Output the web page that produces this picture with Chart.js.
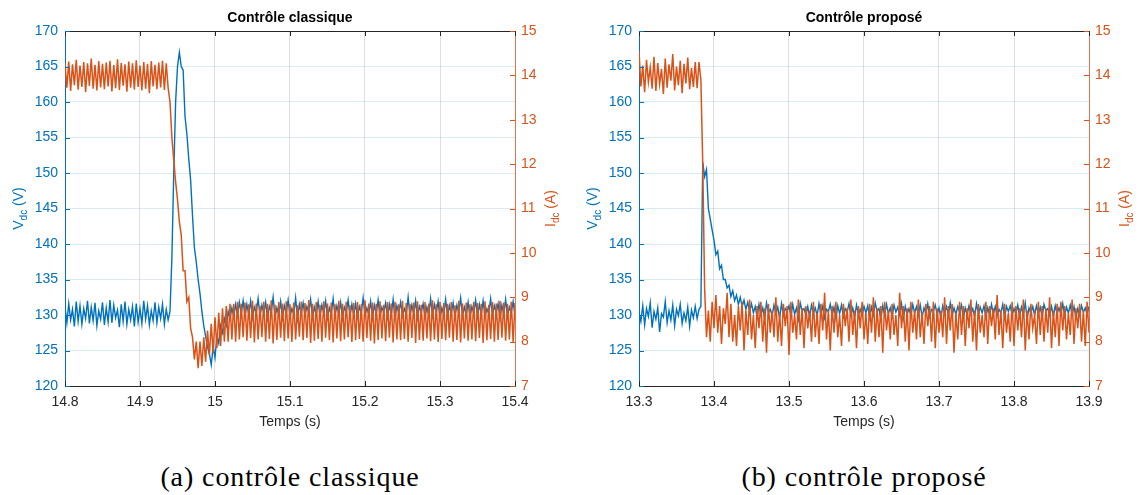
<!DOCTYPE html>
<html>
<head>
<meta charset="utf-8">
<script src="https://cdn.jsdelivr.net/npm/chart.js@4.4.1/dist/chart.umd.min.js"></script>
<style>
  html, body { margin: 0; padding: 0; background: #fff; }
  body { width: 1140px; height: 495px; position: relative; overflow: hidden; }
  canvas { position: absolute; top: 0; }
  .caption { position: absolute; top: 461px; line-height: 32px; font-family: "Liberation Serif", "DejaVu Serif", serif; font-size: 28px; letter-spacing: 0.9px; color: #000; transform: translateX(-50%); white-space: nowrap; }
</style>
</head>
<body>
<canvas id="chartA" width="570" height="440" style="left:0"></canvas>
<canvas id="chartB" width="566" height="440" style="left:574px"></canvas>
<div class="caption" style="left:290px">(a) contrôle classique</div>
<div class="caption" style="left:864px">(b) contrôle proposé</div>
<script>
const BLUE = '#0072BD';
const ORANGE = '#D95319';

// scope sample period (s), traces start at the left edge of each window
const dt = 0.0025;
const startA = 14.8;
const startB = 13.3;

const xTicksA = [14.8, 14.9, 15, 15.1, 15.2, 15.3, 15.4];
const xTicksB = [13.3, 13.4, 13.5, 13.6, 13.7, 13.8, 13.9];
const vTicks = [120, 125, 130, 135, 140, 145, 150, 155, 160, 165, 170];
const iTicks = [7, 8, 9, 10, 11, 12, 13, 14, 15];

// (a) contrôle classique - Vdc (V)
const vdcA = [
  131.2,128.9,131.6,129.3,130.8,128.4,131.9,129.1,131.3,128.7,
  130.9,129.5,132.0,128.8,131.1,129.2,131.7,128.5,130.6,129.4,
  131.8,128.6,131.0,129.0,132.1,128.9,131.4,129.6,130.7,128.3,
  131.5,129.1,131.9,128.7,130.8,129.3,131.2,128.4,131.6,129.0,
  130.9,128.8,132.0,129.4,131.3,128.6,130.6,129.2,131.8,128.9,
  131.1,129.5,131.5,128.7,130.8,129.3,
  130.5,138,150,160,165,167,165,164.5,158,155.5,
  152,149,144,139.5,137.5,135,133,130.5,128.5,127,
  125.5,124.5,123,125.5,124,127,126,128.5,127.5,129.5,
  128.5,130.5,129.5,131,129.8,131.5,130,131.8,130.2,132,
  129.8,131.5,130.1,132.0,129.6,131.1,130.3,132.3,129.9,131.4,
  130.2,131.8,129.5,131.2,130.4,132.5,129.7,131.0,130.0,131.9,
  129.6,131.3,130.3,132.1,129.8,130.9,130.1,132.4,129.5,131.5,
  130.2,131.7,129.9,131.2,130.4,132.2,129.7,131.1,130.0,131.9,
  129.8,131.4,130.3,132.0,129.6,131.0,130.1,132.3,129.9,131.3,
  130.2,131.8,129.5,131.1,130.4,132.1,129.8,131.5,130.0,131.6,
  129.7,131.2,130.3,132.4,129.9,131.0,130.1,131.9,129.6,131.4,
  130.2,132.1,129.8,131.1,130.4,131.7,129.7,131.5,130.0,132.2,
  129.5,131.3,130.3,131.8,129.9,130.9,130.1,132.5,129.8,131.4,
  130.2,132.0,129.6,131.2,130.4,131.6,129.7,131.1,130.0,132.3,
  129.9,131.5,130.3,131.9,129.5,131.0,130.1,132.2,129.8,131.3,
  130.2,131.7,129.7,131.4,130.4,132.4,129.9,131.1,130.0,131.8,
  129.6,131.2,130.3,132.1,129.8,131.5,130.1,132.0,129.7,130.9,
  130.2,132.3,129.9,131.3,130.4,131.6,129.5,131.4,130.1,132.2,
  129.8,131.1,130.3,131.9,129.9
];

// (a) contrôle classique - Idc (A)
const idcA = [
  14.28,13.72,14.31,13.65,14.25,13.78,14.35,13.68,14.22,13.74,
  14.30,13.62,14.27,13.76,14.38,13.70,14.24,13.66,14.32,13.73,
  14.26,13.69,14.29,13.75,14.33,13.64,14.23,13.71,14.36,13.67,
  14.28,13.77,14.25,13.63,14.31,13.72,14.27,13.68,14.34,13.74,
  14.22,13.66,14.30,13.70,14.26,13.60,14.32,13.75,14.24,13.69,
  14.29,13.73,14.33,13.67,14.27,13.72,
  13.4,12.6,12.1,11.6,11.2,10.7,10.4,9.6,9.6,8.9,
  9.0,8.3,8.1,7.6,8.0,7.4,8.0,7.45,8.1,7.55,
  8.25,7.7,8.4,7.75,8.55,7.85,8.65,7.9,8.75,8.0,
  8.8,8.0,8.85,8.05,8.85,8.0,8.9,8.05,8.85,8.1,
  8.88,8.02,8.84,8.08,8.92,7.98,8.86,8.05,8.81,8.10,
  8.90,8.00,8.85,8.06,8.93,7.96,8.83,8.04,8.89,8.09,
  8.86,8.01,8.91,8.07,8.84,7.99,8.88,8.05,8.82,8.11,
  8.90,8.03,8.87,8.08,8.94,7.97,8.85,8.02,8.89,8.06,
  8.83,8.00,8.91,8.09,8.86,8.04,8.88,7.98,8.84,8.07,
  8.92,8.01,8.85,8.05,8.90,8.10,8.82,7.99,8.87,8.03,
  8.89,8.06,8.84,8.00,8.93,8.08,8.86,8.02,8.88,7.96,
  8.85,8.04,8.91,8.07,8.83,8.01,8.89,8.09,8.86,7.98,
  8.90,8.05,8.84,8.03,8.92,8.06,8.87,8.00,8.85,8.08,
  8.88,7.97,8.91,8.04,8.83,8.02,8.89,8.07,8.86,8.01,
  8.93,8.05,8.84,7.99,8.90,8.06,8.87,8.03,8.85,8.09,
  8.89,8.00,8.82,8.04,8.92,7.98,8.86,8.07,8.88,8.02,
  8.84,8.05,8.90,8.01,8.87,8.08,8.85,7.97,8.91,8.03,
  8.83,8.06,8.89,8.00,8.86,8.04,8.92,8.09,8.88,8.02,
  8.85,8.05,8.90,7.99,8.87
];

// (b) contrôle proposé - Vdc (V)
const vdcB = [
  130.4,129.1,131.3,128.6,130.9,129.8,131.7,128.2,130.5,129.4,
  131.0,127.6,130.2,129.7,131.9,128.9,130.6,129.3,131.4,128.5,
  130.8,129.9,131.5,128.8,130.3,129.2,131.1,128.4,130.7,129.6,
  131.2,129.5,
  130.8,131.2,151.5,149.5,150.5,145,143.5,142,140.5,138.5,
  139,136.5,137,135,135,133.8,134.2,132.6,133.4,132,
  132.8,131.5,132.5,131.2,132.1,130.8,131.8,130.5,131.6,
  130.3,131.2,129.7,131.5,130.0,131.0,129.5,131.7,130.4,130.8,
  129.9,131.4,130.2,131.1,129.6,131.6,130.0,130.9,130.5,131.3,
  129.8,131.5,130.1,131.0,129.4,131.7,130.6,130.9,130.0,131.2,
  129.7,131.4,130.3,131.0,129.9,131.6,130.1,131.3,129.6,130.8,
  130.5,131.5,130.0,131.1,129.5,131.3,130.2,131.4,129.8,130.9,
  130.4,131.6,130.0,131.0,129.7,131.4,130.1,130.8,129.9,131.2,
  130.3,131.3,129.6,131.1,130.0,131.7,130.5,130.9,129.4,131.3,
  130.0,131.5,130.2,131.0,129.8,131.4,130.4,131.1,130.0,131.6,
  129.5,131.2,130.1,130.9,129.9,131.5,130.3,131.2,130.0,131.4,
  129.7,131.0,130.2,131.6,129.8,130.8,130.6,131.4,130.1,131.0,
  129.6,131.3,130.3,131.2,130.0,131.7,129.9,131.0,130.1,131.2,
  130.4,131.4,129.5,131.0,130.0,131.3,130.2,130.9,129.8,131.6,
  130.1,131.1,130.3,131.3,129.7,131.0,130.0,131.5,130.1,131.2,
  129.9,130.8,130.3,131.5,129.6,131.2,130.5,131.3,130.0,130.9,
  130.2,131.4,129.8,131.1,130.1,131.7,129.5,131.0,130.3,131.2,
  130.0,131.3,130.2,131.1,129.7,131.5,130.6,130.9,130.0,131.2,
  129.8,131.3,130.2,131.0,130.1,131.6,129.9,131.1,130.3,131.4,
  130.1,131.2,129.6,130.9,130.0,131.3,130.4,131.0,130.1,131.2
];

// (b) contrôle proposé - Idc (A)
const idcB = [
  14.55,13.75,14.22,13.62,14.35,13.85,14.18,13.70,14.42,13.65,
  14.28,13.80,14.15,13.58,14.38,13.72,14.25,13.88,14.48,13.66,
  14.20,13.78,14.33,13.60,14.26,13.82,14.40,13.69,14.17,13.74,
  14.30,13.71,
  14.3,13.9,12.0,9.2,
  8.1,8.7,8.0,8.9,8.3,9.05,8.2,8.8,7.95,8.75,
  8.4,9.1,8.1,8.85,8.0,8.6,7.9,8.8,8.25,8.9,
  7.8,8.7,8.15,8.95,8.05,8.6,7.85,8.8,8.3,8.9,
  8.0,8.75,7.75,8.85,8.2,8.7,8.1,9.0,8.0,8.65,
  7.9,8.85,8.35,8.8,7.7,8.9,8.2,8.6,8.05,8.95,
  8.15,8.75,7.85,8.8,8.3,8.7,8.0,8.9,8.1,8.65,
  7.95,8.85,8.25,9.1,8.05,8.7,7.8,8.8,8.2,8.9,
  8.1,8.6,7.9,8.85,8.35,8.75,8.0,8.95,8.15,8.7,
  7.85,8.8,8.3,8.9,8.05,8.65,7.95,8.85,8.2,9.0,
  8.0,8.75,8.1,8.8,7.75,8.9,8.25,8.7,8.05,8.85,
  8.15,8.6,7.9,9.1,8.3,8.8,8.0,8.75,7.8,8.9,
  8.2,8.7,8.05,8.95,8.1,8.65,7.95,8.85,8.35,8.8,
  8.0,8.9,7.85,8.75,8.2,8.7,8.1,9.0,7.95,8.8,
  8.25,8.85,7.75,8.65,8.05,8.9,8.15,8.8,7.9,8.75,
  8.3,8.95,8.0,8.7,7.8,8.85,8.2,8.6,8.1,8.9,
  7.95,8.8,8.35,8.75,8.05,9.05,8.15,8.7,7.85,8.85,
  8.2,8.65,8.0,8.9,7.9,8.8,8.25,8.75,8.1,8.95,
  7.8,8.7,8.05,8.85,8.3,8.6,7.95,8.9,8.15,8.8,
  8.0,8.75,8.2,9.0,7.85,8.7,8.1,8.85,7.9,8.9,
  8.25,8.8,8.05,8.65,8.15,8.95,7.95,8.75,8.3,8.85,
  8.0,8.7,7.9,8.9,8.2
];

Chart.defaults.font.family = '"Liberation Sans", Arial, sans-serif';
Chart.defaults.font.size = 14;

function trace(t0, values) {
  return values.map((y, k) => ({ x: t0 + k * dt, y: y }));
}

// rotated axis label with a subscript, e.g. V_dc (V)
function subLabel(ctx, x, y, main, sub, rest, color) {
  const big = '14px "Liberation Sans", Arial, sans-serif';
  const small = '10px "Liberation Sans", Arial, sans-serif';
  ctx.save();
  ctx.translate(x, y);
  ctx.rotate(-Math.PI / 2);
  ctx.fillStyle = color;
  ctx.textBaseline = 'alphabetic';
  ctx.font = big;
  const w1 = ctx.measureText(main).width;
  const w3 = ctx.measureText(rest).width;
  ctx.font = small;
  const w2 = ctx.measureText(sub).width;
  let cx = -(w1 + w2 + w3) / 2;
  ctx.font = big; ctx.fillText(main, cx, 5); cx += w1;
  ctx.font = small; ctx.fillText(sub, cx, 9); cx += w2;
  ctx.font = big; ctx.fillText(rest, cx, 5);
  ctx.restore();
}

// matlab-like box: top edge, inward ticks, title and axis labels
const frame = {
  id: 'frame',
  afterDraw(chart, args, opts) {
    const { ctx, chartArea: a, scales } = chart;
    ctx.save();
    ctx.lineWidth = 1;
    ctx.strokeStyle = '#262626';
    ctx.beginPath();
    ctx.moveTo(a.left, a.top + 0.5);
    ctx.lineTo(a.right, a.top + 0.5);
    scales.x.ticks.forEach(t => {
      const px = Math.round(scales.x.getPixelForValue(t.value)) + 0.5;
      ctx.moveTo(px, a.bottom); ctx.lineTo(px, a.bottom - 5);
      ctx.moveTo(px, a.top); ctx.lineTo(px, a.top + 5);
    });
    ctx.stroke();
    ctx.strokeStyle = BLUE;
    ctx.beginPath();
    scales.y.ticks.forEach(t => {
      const py = Math.round(scales.y.getPixelForValue(t.value)) + 0.5;
      ctx.moveTo(a.left, py); ctx.lineTo(a.left + 5, py);
    });
    ctx.stroke();
    ctx.strokeStyle = ORANGE;
    ctx.beginPath();
    scales.y1.ticks.forEach(t => {
      const py = Math.round(scales.y1.getPixelForValue(t.value)) + 0.5;
      ctx.moveTo(a.right, py); ctx.lineTo(a.right - 5, py);
    });
    ctx.stroke();

    const cx = (a.left + a.right) / 2;
    ctx.textAlign = 'center';
    ctx.textBaseline = 'middle';
    ctx.fillStyle = '#000';
    ctx.font = 'bold 14px "Liberation Sans", Arial, sans-serif';
    ctx.fillText(opts.title, cx, 18);
    ctx.fillStyle = '#262626';
    ctx.font = '14px "Liberation Sans", Arial, sans-serif';
    ctx.fillText('Temps (s)', cx, 422);
    ctx.restore();

    const cy = (a.top + a.bottom) / 2;
    subLabel(ctx, 18, cy, 'V', 'dc', ' (V)', BLUE);
    subLabel(ctx, a.right + 35, cy, 'I', 'dc', ' (A)', ORANGE);
  }
};

function makeChart(id, title, t0, vdc, idc, xTicks, rightWidth) {
  new Chart(document.getElementById(id), {
    type: 'line',
    data: {
      datasets: [
        { data: trace(t0, vdc), yAxisID: 'y', borderColor: BLUE, borderWidth: 1.4, pointRadius: 0, order: 2 },
        { data: trace(t0, idc), yAxisID: 'y1', borderColor: ORANGE, borderWidth: 1.5, pointRadius: 0, order: 1 }
      ]
    },
    options: {
      responsive: false,
      animation: false,
      events: [],
      layout: { padding: { top: 31, left: 0, right: 0, bottom: 0 } },
      plugins: { legend: { display: false }, tooltip: { enabled: false }, frame: { title: title } },
      scales: {
        x: {
          type: 'linear', min: xTicks[0], max: xTicks[xTicks.length - 1],
          afterBuildTicks: s => { s.ticks = xTicks.map(v => ({ value: v })); },
          afterFit: s => { s.height = 54; },
          ticks: { color: '#262626', padding: 8, maxRotation: 0, autoSkip: false, callback: v => String(v) },
          grid: { color: 'rgba(38,38,38,0.15)', drawTicks: false },
          border: { color: '#262626' }
        },
        y: {
          position: 'left', min: vTicks[0], max: vTicks[vTicks.length - 1],
          afterBuildTicks: s => { s.ticks = vTicks.map(v => ({ value: v })); },
          afterFit: s => { s.width = 65; },
          ticks: { color: BLUE, padding: 7 },
          grid: { color: 'rgba(0,114,189,0.15)', drawTicks: false },
          border: { color: BLUE }
        },
        y1: {
          position: 'right', min: iTicks[0], max: iTicks[iTicks.length - 1],
          afterBuildTicks: s => { s.ticks = iTicks.map(v => ({ value: v })); },
          afterFit: s => { s.width = rightWidth; },
          ticks: { color: ORANGE, padding: 6 },
          grid: { display: false, drawTicks: false },
          border: { color: 'rgba(217,83,25,0.75)' }
        }
      }
    },
    plugins: [frame]
  });
}

makeChart('chartA', 'Contrôle classique', startA, vdcA, idcA, xTicksA, 55);
makeChart('chartB', 'Contrôle proposé', startB, vdcB, idcB, xTicksB, 51);
</script>
</body>
</html>
